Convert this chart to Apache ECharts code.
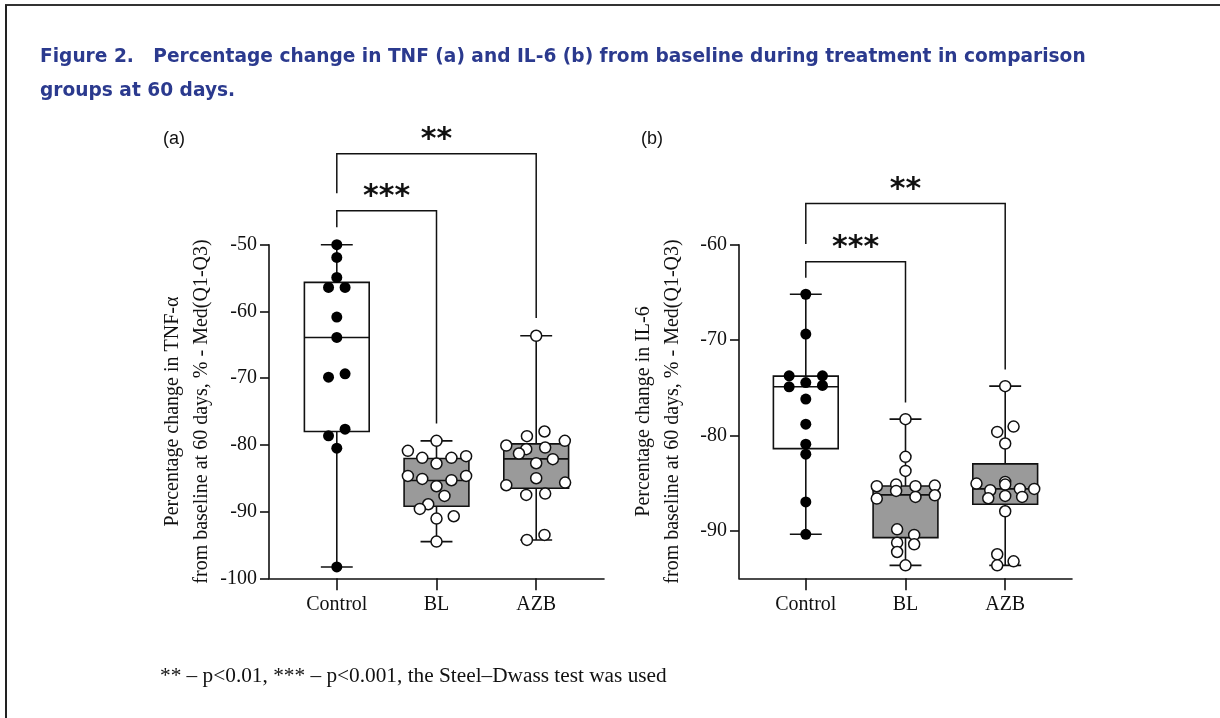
<!DOCTYPE html>
<html lang="en">
<head>
    <meta charset="utf-8">
    <title>Figure 2</title>
    <script src="https://cdn.jsdelivr.net/npm/echarts@6/dist/echarts.min.js"></script>
    <style>
        html, body { margin: 0; padding: 0; background: #ffffff; }
        #main { width: 1220px; height: 718px; }
    </style>
</head>
<body>
<div id="main"></div>
<script type="text/javascript">
    // groups on the x axis
    var categories = ['Control', 'BL', 'AZB'];

    // (a) TNF-alpha: box stats [whisker low, Q1, median, Q3, whisker high]
    var tnfBoxes = [
        [-98.3, -78.0, -63.9, -55.65, -50.0],
        [-94.5, -89.2, -85.35, -82.05, -79.4],
        [-94.25, -86.5, -82.1, -79.85, -63.65]
    ];
    // (a) individual points and their horizontal jitter (in group widths)
    var tnfControl = [-50.0, -51.9, -54.9, -56.4, -56.4, -60.85, -63.9, -69.85, -69.35, -77.65, -78.65, -80.5, -98.3];
    var tnfControlJit = [0, 0, 0, -0.083, 0.083, 0, 0, -0.083, 0.083, 0.083, -0.083, 0, 0];
    var tnfBL = [-79.4, -80.9, -81.95, -82.8, -81.95, -81.7, -84.65, -85.1, -85.3, -84.65, -86.2, -87.65, -88.9, -89.6, -91.05, -90.7, -94.5];
    var tnfBLJit = [0, -0.287, -0.143, 0, 0.15, 0.297, -0.287, -0.143, 0.15, 0.297, 0, 0.08, -0.083, -0.167, 0, 0.173, 0];
    var tnfAZB = [-63.65, -78.0, -78.7, -80.1, -80.65, -80.4, -79.4, -81.3, -82.15, -82.75, -85.0, -86.05, -85.65, -87.5, -87.3, -93.5, -94.25];
    var tnfAZBJit = [0, 0.083, -0.093, -0.3, -0.1, 0.09, 0.287, -0.173, 0.167, 0, 0, -0.3, 0.29, -0.1, 0.09, 0.083, -0.093];

    // (b) IL-6
    var ilBoxes = [
        [-90.38, -81.39, -74.91, -73.79, -65.2],
        [-93.64, -90.73, -86.25, -85.31, -78.3],
        [-93.64, -87.23, -85.62, -83.0, -74.84]
    ];
    var ilControl = [-65.2, -69.38, -73.76, -73.76, -74.46, -74.91, -74.77, -76.2, -78.83, -80.93, -81.98, -86.99, -90.38];
    var ilControlJit = [0, 0, -0.167, 0.167, 0, -0.167, 0.167, 0, 0, 0, 0, 0, 0];
    var ilBL = [-78.3, -82.26, -83.73, -85.34, -85.17, -85.34, -85.27, -86.64, -85.83, -86.46, -86.29, -89.86, -90.45, -91.26, -91.43, -92.24, -93.64];
    var ilBLJit = [0, 0, 0, -0.288, -0.094, 0.1, 0.294, -0.288, -0.094, 0.1, 0.294, -0.084, 0.087, -0.084, 0.087, -0.084, 0];
    var ilAZB = [-74.84, -79.64, -79.08, -80.86, -85.06, -84.89, -85.17, -85.76, -85.62, -85.62, -86.6, -86.36, -86.46, -87.97, -92.48, -93.22, -93.64];
    var ilAZBJit = [0, -0.08, 0.084, 0, -0.288, 0, 0, -0.15, 0.147, 0.291, -0.17, 0, 0.17, 0, -0.08, 0.084, -0.08];

    // significance brackets: [from group, to group, top, left leg end, right leg end, star centre]
    var tnfBrackets = [[0, 2, -36.35, -42.3, -61.0, -33.4], [0, 1, -44.9, -47.4, -76.8, -42.05]];
    var ilBrackets = [[0, 2, -55.69, -59.93, -73.09, -53.62], [0, 1, -61.79, -63.47, -76.55, -59.75]];
    var bracketStars = ['**', '***'];

    var BOX_HALF = 0.325;
    var CAP_HALF = 0.16;
    var SERIF = '"Liberation Serif", "Times New Roman", serif';

    function pts(vals, jit, g) {
        return vals.map(function (v, i) { return [g + jit[i], v]; });
    }
    function boxData(boxes) {
        return boxes.map(function (b, i) { return [i].concat(b); });
    }

    function renderBox(params, api) {
        var x = api.value(0);
        var lo = api.coord([x, api.value(1)]);
        var q1 = api.coord([x, api.value(2)]);
        var med = api.coord([x, api.value(3)]);
        var q3 = api.coord([x, api.value(4)]);
        var hi = api.coord([x, api.value(5)]);
        var half = api.size([BOX_HALF, 0])[0];
        var cap = api.size([CAP_HALF, 0])[0];
        var fill = params.dataIndex === 0 ? '#ffffff' : '#9a9a9a';
        var ln = { stroke: '#111', lineWidth: 1.6 };
        return {
            type: 'group',
            children: [
                { type: 'line', shape: { x1: lo[0], y1: lo[1], x2: hi[0], y2: hi[1] }, style: ln },
                { type: 'line', shape: { x1: lo[0] - cap, y1: lo[1], x2: lo[0] + cap, y2: lo[1] }, style: ln },
                { type: 'line', shape: { x1: hi[0] - cap, y1: hi[1], x2: hi[0] + cap, y2: hi[1] }, style: ln },
                { type: 'rect', shape: { x: q3[0] - half, y: q3[1], width: half * 2, height: q1[1] - q3[1] },
                  style: { fill: fill, stroke: '#111', lineWidth: 1.6 } },
                { type: 'line', shape: { x1: med[0] - half, y1: med[1], x2: med[0] + half, y2: med[1] }, style: ln }
            ]
        };
    }

    function renderBracket(params, api) {
        var a = api.coord([api.value(0), api.value(3)]);
        var t1 = api.coord([api.value(0), api.value(2)]);
        var t2 = api.coord([api.value(1), api.value(2)]);
        var b = api.coord([api.value(1), api.value(4)]);
        var s = api.coord([(api.value(0) + api.value(1)) / 2, api.value(5)]);
        return {
            type: 'group',
            children: [
                { type: 'polyline', shape: { points: [a, t1, t2, b] },
                  style: { fill: null, stroke: '#111', lineWidth: 1.5 } },
                { type: 'text', style: { text: bracketStars[params.dataIndex], x: s[0], y: s[1] + 6,
                    align: 'center', verticalAlign: 'middle', fill: '#111',
                    font: 'bold 30px "DejaVu Sans", sans-serif' } }
            ]
        };
    }

    function xAxisDef(gi, min, max) {
        return {
            type: 'value', gridIndex: gi, min: min, max: max,
            splitLine: { show: false },
            axisLine: { onZero: false, lineStyle: { color: '#111', width: 1.6 } },
            axisTick: { customValues: [0, 1, 2], length: 12, lineStyle: { color: '#111', width: 1.6 } },
            axisLabel: {
                customValues: [0, 1, 2], margin: 16, color: '#111',
                fontFamily: SERIF, fontSize: 20,
                formatter: function (v) { return categories[Math.round(v)]; }
            }
        };
    }
    function yAxisDef(gi, min, max, ticks, name) {
        return {
            type: 'value', gridIndex: gi, min: min, max: max,
            splitLine: { show: false },
            axisLine: { show: true, onZero: false, lineStyle: { color: '#111', width: 1.6 } },
            axisTick: { show: true, customValues: ticks, length: 9, lineStyle: { color: '#111', width: 1.6 } },
            axisLabel: { customValues: ticks, margin: 12, color: '#111', fontFamily: SERIF, fontSize: 20 },
            name: name, nameLocation: 'middle', nameGap: 52, nameRotate: 90,
            nameTextStyle: { fontFamily: SERIF, fontSize: 20, lineHeight: 29, color: '#111' }
        };
    }

    var myChart = echarts.init(document.getElementById('main'), null, { renderer: 'canvas' });
    myChart.setOption({
        backgroundColor: '#ffffff',
        animation: false,
        title: [
            {
                text: 'Figure 2.   Percentage change in TNF (a) and IL-6 (b) from baseline during treatment in comparison\ngroups at 60 days.',
                left: 35, top: 35,
                textStyle: { color: '#2b3a8e', fontFamily: '"DejaVu Sans", sans-serif', fontWeight: 'bold', fontSize: 18.6, lineHeight: 34 }
            },
            { text: '(a)', left: 158, top: 125, textStyle: { color: '#111', fontFamily: '"Liberation Sans", Arial, sans-serif', fontWeight: 'normal', fontSize: 18 } },
            { text: '(b)', left: 636, top: 125, textStyle: { color: '#111', fontFamily: '"Liberation Sans", Arial, sans-serif', fontWeight: 'normal', fontSize: 18 } },
            {
                text: '** \u2013 p<0.01, *** \u2013 p<0.001, the Steel\u2013Dwass test was used',
                left: 155, top: 661,
                textStyle: { color: '#111', fontFamily: SERIF, fontWeight: 'normal', fontSize: 21.3 }
            }
        ],
        graphic: [
            { type: 'line', shape: { x1: 5, y1: 5, x2: 1220, y2: 5 }, style: { stroke: '#333', lineWidth: 2 } },
            { type: 'line', shape: { x1: 6, y1: 5, x2: 6, y2: 718 }, style: { stroke: '#222', lineWidth: 2 } }
        ],
        grid: [
            { left: 269, right: 616, top: 244.7, bottom: 139.7 },
            { left: 739, right: 148, top: 244.7, bottom: 139.7 }
        ],
        xAxis: [xAxisDef(0, -0.68, 2.68), xAxisDef(1, -0.67, 2.67)],
        yAxis: [
            yAxisDef(0, -100, -50, [-100, -90, -80, -70, -60, -50],
                'Percentage change in TNF-\u03b1\nfrom baseline at 60 days, % - Med(Q1-Q3)'),
            yAxisDef(1, -95, -60, [-90, -80, -70, -60],
                'Percentage change in IL-6\nfrom baseline at 60 days, % - Med(Q1-Q3)')
        ],
        series: [
            { type: 'custom', xAxisIndex: 0, yAxisIndex: 0, renderItem: renderBox, data: boxData(tnfBoxes), z: 2 },
            { type: 'custom', xAxisIndex: 1, yAxisIndex: 1, renderItem: renderBox, data: boxData(ilBoxes), z: 2 },
            { type: 'custom', xAxisIndex: 0, yAxisIndex: 0, renderItem: renderBracket, data: tnfBrackets, clip: false, z: 2 },
            { type: 'custom', xAxisIndex: 1, yAxisIndex: 1, renderItem: renderBracket, data: ilBrackets, clip: false, z: 2 },
            {
                type: 'scatter', xAxisIndex: 0, yAxisIndex: 0, symbolSize: 11, z: 5,
                itemStyle: { color: '#000', opacity: 1 },
                data: pts(tnfControl, tnfControlJit, 0)
            },
            {
                type: 'scatter', xAxisIndex: 0, yAxisIndex: 0, symbolSize: 11, z: 5,
                itemStyle: { color: '#fff', borderColor: '#111', borderWidth: 1.5, opacity: 1 },
                data: pts(tnfBL, tnfBLJit, 1).concat(pts(tnfAZB, tnfAZBJit, 2))
            },
            {
                type: 'scatter', xAxisIndex: 1, yAxisIndex: 1, symbolSize: 11, z: 5,
                itemStyle: { color: '#000', opacity: 1 },
                data: pts(ilControl, ilControlJit, 0)
            },
            {
                type: 'scatter', xAxisIndex: 1, yAxisIndex: 1, symbolSize: 11, z: 5,
                itemStyle: { color: '#fff', borderColor: '#111', borderWidth: 1.5, opacity: 1 },
                data: pts(ilBL, ilBLJit, 1).concat(pts(ilAZB, ilAZBJit, 2))
            }
        ]
    });
</script>
</body>
</html>
